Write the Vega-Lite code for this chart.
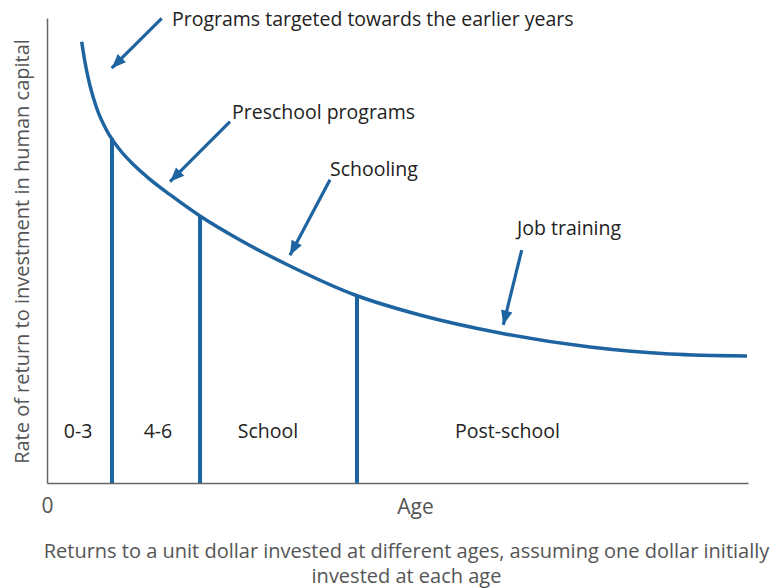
{
  "$schema": "https://vega.github.io/schema/vega-lite/v6.json",
  "width": 701,
  "height": 465,
  "autosize": "none",
  "padding": {"left": 47, "top": 18, "right": 22, "bottom": 105},
  "background": "white",
  "config": {"view": {"stroke": null}, "font": "Open Sans"},
  "title": {
    "text": ["Returns to a unit dollar invested at different ages, assuming one dollar initially", "invested at each age"],
    "orient": "bottom",
    "anchor": "middle",
    "fontSize": 20,
    "fontWeight": "normal",
    "color": "#555555",
    "lineHeight": 25,
    "offset": 25,
    "dx": 9
  },
  "datasets": {
    "curve": [
      {"age": 4.95, "ret": 94.9},
      {"age": 5.42, "ret": 90.49},
      {"age": 6.13, "ret": 85.44},
      {"age": 7.13, "ret": 80.43},
      {"age": 8.56, "ret": 75.7},
      {"age": 10.41, "ret": 71.61},
      {"age": 12.55, "ret": 68.17},
      {"age": 14.69, "ret": 65.31},
      {"age": 17.55, "ret": 62.0},
      {"age": 21.83, "ret": 57.42},
      {"age": 27.53, "ret": 52.26},
      {"age": 34.66, "ret": 46.67},
      {"age": 43.94, "ret": 40.43},
      {"age": 53.21, "ret": 36.13},
      {"age": 64.62, "ret": 32.26},
      {"age": 77.46, "ret": 29.25},
      {"age": 88.87, "ret": 27.74},
      {"age": 99.86, "ret": 27.31}
    ],
    "bounds": [
      {"age": 9.27, "lo": 0, "ret": 74.19},
      {"age": 21.83, "lo": 0, "ret": 57.2},
      {"age": 44.22, "lo": 0, "ret": 40.2}
    ],
    "arrows": [
      {"label": "Programs targeted towards the earlier years", "tx": 17.83, "ty": 99.6, "x": 16.36, "y": 99.9, "x2": 9.23, "y2": 89.2},
      {"label": "Preschool programs", "tx": 26.39, "ty": 79.6, "x": 26.11, "y": 77.7, "x2": 17.55, "y2": 64.8},
      {"label": "Schooling", "tx": 40.37, "ty": 67.3, "x": 40.37, "y": 65.2, "x2": 34.66, "y2": 49.0},
      {"label": "Job training", "tx": 67.05, "ty": 54.6, "x": 67.72, "y": 50.1, "x2": 65.09, "y2": 34.0}
    ],
    "periods": [
      {"period": "0-3", "age": 4.44, "ret": 11.0},
      {"period": "4-6", "age": 15.83, "ret": 11.0},
      {"period": "School", "age": 31.53, "ret": 11.0},
      {"period": "Post-school", "age": 65.69, "ret": 11.0}
    ]
  },
  "layer": [
    {
      "data": {"name": "curve"},
      "mark": {"type": "line", "interpolate": "monotone", "strokeWidth": 3.5, "color": "#1e64a0"},
      "encoding": {
        "x": {
          "field": "age", "type": "quantitative",
          "scale": {"domain": [0, 100], "nice": false, "zero": false},
          "axis": {
            "values": [0], "title": "Age", "domainColor": "#666666", "domainWidth": 1.5,
            "ticks": false, "grid": false, "labelFontSize": 21, "labelColor": "#555555",
            "labelFlush": false, "labelBound": false,
            "labelPadding": 12, "labelDx": -3, "titleFontSize": 21, "titleFontWeight": "normal",
            "titleColor": "#555555", "titleX": 368, "titleY": 24, "titleBaseline": "middle"
          }
        },
        "y": {
          "field": "ret", "type": "quantitative",
          "scale": {"domain": [0, 100], "nice": false, "zero": false},
          "axis": {
            "title": "Rate of return to investment in human capital", "labels": false, "ticks": false,
            "grid": false, "domainColor": "#666666", "domainWidth": 1.5, "titleFontSize": 20,
            "titleFontWeight": "normal", "titleColor": "#555555", "titleX": -25, "titleY": 233,
            "titleAngle": -90, "titleAlign": "center", "titleBaseline": "middle"
          }
        }
      }
    },
    {
      "data": {"name": "bounds"},
      "mark": {"type": "rule", "strokeWidth": 4, "color": "#1e64a0"},
      "encoding": {
        "x": {"field": "age", "type": "quantitative"},
        "y": {"field": "lo", "type": "quantitative"},
        "y2": {"field": "ret"}
      }
    },
    {
      "data": {"name": "arrows"},
      "mark": {"type": "rule", "strokeWidth": 3.2, "color": "#1e64a0"},
      "encoding": {
        "x": {"field": "x", "type": "quantitative"},
        "y": {"field": "y", "type": "quantitative"},
        "x2": {"field": "x2"},
        "y2": {"field": "y2"}
      }
    },
    {
      "data": {"name": "arrows"},
      "transform": [{"filter": "datum.label == 'Programs targeted towards the earlier years' || datum.label == 'Preschool programs'"}],
      "mark": {"type": "point", "shape": "M0,0L0.65,1.6L-0.65,1.6Z", "filled": true, "size": 320, "opacity": 1, "color": "#1e64a0", "angle": 225},
      "encoding": {
        "x": {"field": "x2", "type": "quantitative"},
        "y": {"field": "y2", "type": "quantitative"}
      }
    },
    {
      "data": {"name": "arrows"},
      "transform": [{"filter": "datum.label == 'Schooling'"}],
      "mark": {"type": "point", "shape": "M0,0L0.65,1.6L-0.65,1.6Z", "filled": true, "size": 320, "opacity": 1, "color": "#1e64a0", "angle": 208},
      "encoding": {
        "x": {"field": "x2", "type": "quantitative"},
        "y": {"field": "y2", "type": "quantitative"}
      }
    },
    {
      "data": {"name": "arrows"},
      "transform": [{"filter": "datum.label == 'Job training'"}],
      "mark": {"type": "point", "shape": "M0,0L0.65,1.6L-0.65,1.6Z", "filled": true, "size": 320, "opacity": 1, "color": "#1e64a0", "angle": 194},
      "encoding": {
        "x": {"field": "x2", "type": "quantitative"},
        "y": {"field": "y2", "type": "quantitative"}
      }
    },
    {
      "data": {"name": "arrows"},
      "mark": {"type": "text", "align": "left", "baseline": "middle", "fontSize": 19.5, "color": "#222222"},
      "encoding": {
        "x": {"field": "tx", "type": "quantitative"},
        "y": {"field": "ty", "type": "quantitative"},
        "text": {"field": "label"}
      }
    },
    {
      "data": {"name": "periods"},
      "mark": {"type": "text", "align": "center", "baseline": "middle", "fontSize": 19.5, "color": "#222222"},
      "encoding": {
        "x": {"field": "age", "type": "quantitative"},
        "y": {"field": "ret", "type": "quantitative"},
        "text": {"field": "period"}
      }
    }
  ]
}
